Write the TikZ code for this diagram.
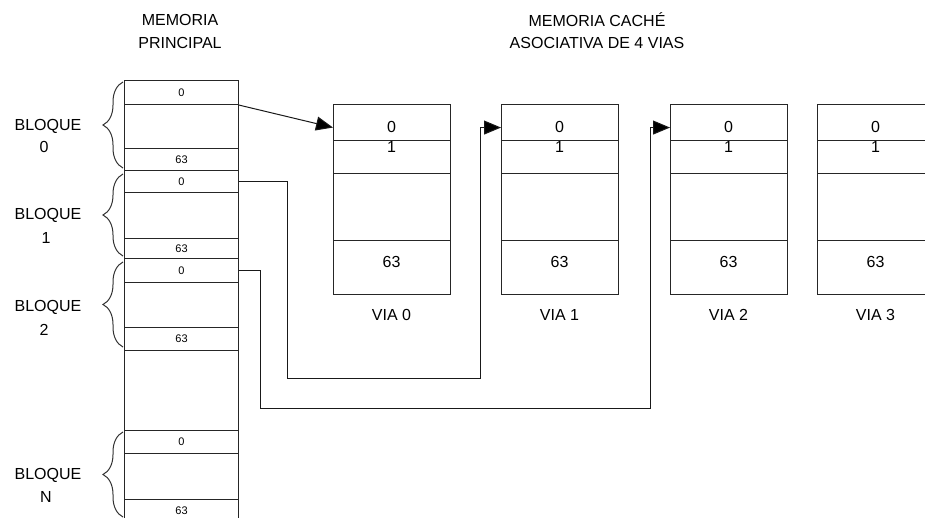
\documentclass[tikz,border=0pt]{standalone}
\usepackage{fontspec}
\setmainfont{Liberation Sans}
\usetikzlibrary{arrows.meta,decorations.pathreplacing}
\begin{document}
\begin{tikzpicture}[x=1pt,y=-1pt,
  line width=1.1pt,
  mcell/.style={draw=black!85, minimum width=114pt, inner sep=0pt, anchor=north west, font=\fontsize{11}{12}\selectfont},
  ccell/.style={draw=black!85, minimum width=117pt, inner sep=0pt, anchor=north west},
  ctext/.style={font=\fontsize{16}{18}\selectfont, inner sep=0pt},
  lbl/.style={font=\fontsize{16}{18}\selectfont, inner sep=0pt},
  bracestyle/.style={draw=black!80, line width=1pt, decorate, decoration={brace, amplitude=20pt}},
  conn/.style={draw=black!90, line width=1pt, -{Triangle[length=17pt,width=14pt,fill=black]}}
]
\useasboundingbox (0,0) rectangle (925,518);
\clip (0,0) rectangle (925,518);
\fill[white] (0,0) rectangle (925,518);

% titles
\node[lbl] (t1a) at (180,20) {MEMORIA};
\node[lbl] (t1b) at (180,43) {PRINCIPAL};
\node[lbl] (t2a) at (597,20) {MEMORIA CACHÉ};
\node[lbl] (t2b) at (597,43) {ASOCIATIVA DE 4 VIAS};

% main memory column
\node[draw=black!85, minimum width=114pt, minimum height=450pt, anchor=north west, inner sep=0pt] (mem) at (124,80) {};
\node[mcell, minimum height=24pt] (b0top) at (124,80) {0};
\node[mcell, minimum height=22pt] (b0bot) at (124,148) {63};
\node[mcell, minimum height=22pt] (b1top) at (124,170) {0};
\node[mcell, minimum height=20pt] (b1bot) at (124,238) {63};
\node[mcell, minimum height=24pt] (b2top) at (124,258) {0};
\node[mcell, minimum height=23pt] (b2bot) at (124,327) {63};
\node[mcell, minimum height=23pt] (bNtop) at (124,430) {0};
\node[mcell, minimum height=22pt] (bNbot) at (124,499) {63};

% braces
\draw[bracestyle] (123,168) -- (123,82);
\draw[bracestyle] (123,256) -- (123,174);
\draw[bracestyle] (123,347) -- (123,262);
\draw[bracestyle] (123,517) -- (123,432);

% block labels
\node[lbl] (l0a) at (48,126) {BLOQUE};
\node[lbl] (l0b) at (44,147) {0};
\node[lbl] (l1a) at (48,215) {BLOQUE};
\node[lbl] (l1b) at (46,238) {1};
\node[lbl] (l2a) at (48,307) {BLOQUE};
\node[lbl] (l2b) at (44,330) {2};
\node[lbl] (lNa) at (48,475) {BLOQUE};
\node[lbl] (lNb) at (46,497) {N};

% cache ways
\foreach \i/\x in {0/333,1/501,2/670,3/817}{
  \node[ccell, minimum height=36pt] (v\i t) at (\x,104) {};
  \node[ccell, minimum height=33pt] (v\i o) at (\x,140) {};
  \node[ccell, minimum height=67pt] (v\i m) at (\x,173) {};
  \node[ccell, minimum height=54pt] (v\i b) at (\x,240) {};
  \node[ctext] (v\i tz) at (\x+58.5,127) {0};
  \node[ctext] (v\i to) at (\x+58.5,147) {1};
  \node[ctext] (v\i tb) at (\x+58.5,262) {63};
  \node[lbl] (v\i l) at (\x+58.5,315) {VIA \i};
}

% connectors
\draw[conn] (b0top.south east) -- ([yshift=-5pt]v0t.west);
\coordinate (k1a) at (287,378);
\coordinate (k1b) at (480,378);
\draw[conn] (b1top.east) -| (k1a) -- (k1b) |- ([yshift=-5pt]v1t.west);
\coordinate (k2a) at (260,408);
\coordinate (k2b) at (650,408);
\draw[conn] (b2top.east) -| (k2a) -- (k2b) |- ([yshift=-5pt]v2t.west);
\end{tikzpicture}
\end{document}
